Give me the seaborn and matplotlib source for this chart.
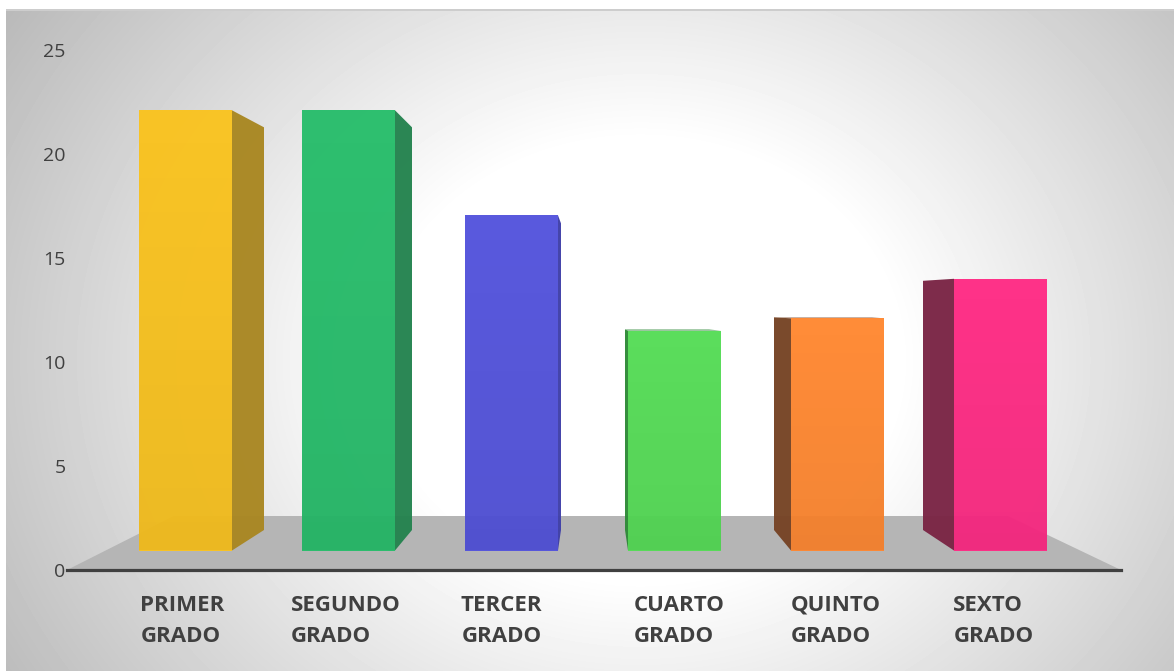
#!/usr/bin/env python3
import numpy as np
import pandas as pd
import matplotlib as mpl
mpl.use('Agg')
import matplotlib.pyplot as plt
from matplotlib.patches import Polygon
from matplotlib.transforms import ScaledTranslation
import seaborn as sns

# values
grades = ['PRIMER\nGRADO', 'SEGUNDO\nGRADO', 'TERCER\nGRADO', 'CUARTO\nGRADO', 'QUINTO\nGRADO', 'SEXTO\nGRADO']
students = [22.1, 22.1, 17.05, 11.5, 12.1, 14.0]
yticks = [0, 5, 10, 15, 20, 25]

front_colors = ['#FAC31E', '#26BD6A', '#5252DC', '#54DC55', '#FF8730', '#FF2A84']
side_colors = ['#A98722', '#24834F', '#3F3FA8', '#2F8A38', '#764425', '#7A2545']

# fake 3D look, all in pixels
side_dx = [32, 17, 3, -3, -17, -31]
side_drop = [17, 17, 8, -1.5, -1, 2]
label_dx = [-3, -3, -10, 5, -2, -7]
base_px = 19.5
rise_px = 20.5

W, H = 1174, 671
PX_X = 163.0    # pixels per category
PX_Y = 20.8     # pixels per unit
X0 = 185.5      # pixel centre of first bar

sns.set_theme(style='white')
plt.rcParams['font.family'] = ['Open Sans', 'DejaVu Sans']

fig = plt.figure(figsize=(W / 100, H / 100), dpi=100, facecolor='white')

# background, radial grey to white
bg = fig.add_axes([0, 0, 1, 1], zorder=0)
yy, xx = np.mgrid[0:H, 0:W]
d = np.sqrt(((xx - 640) / 470.0) ** 2 + ((yy - 360) / 400.0) ** 2)
shade = np.clip(255 - (d - 0.55) * 66, 186, 255)
shade[:10, :] = 255
shade[:, :6] = 255
shade[9:11, 6:] = 205
bg.imshow(shade, cmap='gray', vmin=0, vmax=255, aspect='auto', interpolation='bilinear')
bg.axis('off')

ax = fig.add_axes([67 / W, (H - 570) / H, (1121 - 67) / W, 520 / H], zorder=1)
ax.patch.set_visible(False)

df = pd.DataFrame({'grade': grades, 'students': students})
sns.barplot(data=df, x='grade', y='students', hue='grade', palette=front_colors, saturation=1,
            width=93 / PX_X, legend=False, ax=ax, zorder=4, alpha=0.96)

ax.set_xlim((67 - X0) / PX_X, (1121 - X0) / PX_X)
ax.set_ylim(0, 25)
xlim, ylim = ax.get_xlim(), ax.get_ylim()

# floor
floor = Polygon([(xlim[0], 0), ((174 - X0) / PX_X, 54 / PX_Y), ((1008 - X0) / PX_X, 54 / PX_Y), (xlim[1], 0)],
                closed=True, fc='#B5B5B5', ec='none', zorder=1)
ax.add_patch(floor)

base = base_px / PX_Y
shadow = np.zeros((64, 1, 4))
shadow[..., 3] = np.linspace(0, 0.05, 64).reshape(-1, 1)

for bar, val, dx, drop, side in zip(ax.patches[:len(students)], students, side_dx, side_drop, side_colors):
    bar.set_y(base)
    bar.set_height(val - base)
    bar.set_edgecolor('none')
    left, right = bar.get_x(), bar.get_x() + bar.get_width()
    fx = right if dx > 0 else left
    bx = fx + dx / PX_X
    pts = [(fx, base), (fx, val), (bx, val - drop / PX_Y), (bx, base + rise_px / PX_Y)]
    ax.add_patch(Polygon(pts, closed=True, fc=side, ec='none', alpha=0.97, zorder=3))
    if drop < 0:
        # top face only shows on the low bars near the middle
        top = [(left, val), (right, val), (right - (right - left) * 0.13, val - drop / PX_Y), (bx, val - drop / PX_Y)]
        ax.add_patch(Polygon(top, closed=True, fc=side, ec='none', alpha=0.6, zorder=3))
    # front face gets a bit darker towards the floor
    im = ax.imshow(shadow, extent=(left, right, base, val), origin='upper', aspect='auto',
                   interpolation='nearest', zorder=5)
    im.set_clip_path(bar)

ax.set_xlim(xlim)
ax.set_ylim(ylim)

ax.set_xlabel('')
ax.set_ylabel('')
ax.set_yticks(yticks)
ax.set_xticks(range(len(grades)))
ax.set_xticklabels(grades)
ax.tick_params(axis='y', length=0, pad=1, labelsize=14, labelcolor='#404040')
ax.tick_params(axis='x', length=0, pad=18, labelsize=16, labelcolor='#404040')

for lab, off in zip(ax.get_xticklabels(), label_dx):
    lab.set_fontweight('bold')
    lab.set_linespacing(1.62)
    lab.set_multialignment('center' if lab.get_text().startswith('TERCER') else 'left')
    lab.set_transform(lab.get_transform() + ScaledTranslation(off / 100, 0, fig.dpi_scale_trans))

sns.despine(ax=ax, left=True, top=True, right=True)
ax.spines['bottom'].set_color('#404040')
ax.spines['bottom'].set_linewidth(2.3)
ax.spines['bottom'].set_zorder(6)

fig.savefig('out.png', dpi=100)
plt.close()
